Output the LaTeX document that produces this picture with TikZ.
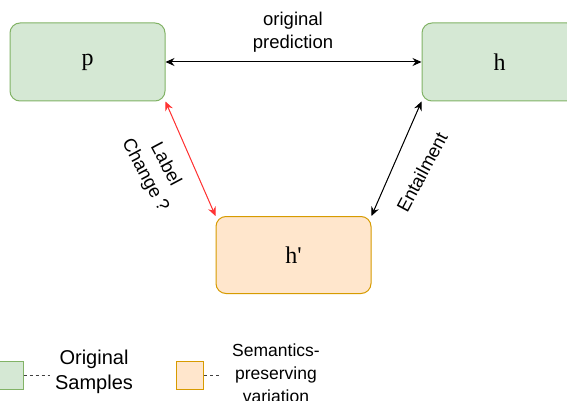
\documentclass[tikz,border=0pt]{standalone}
\usepackage{fontspec}
\setmainfont{Liberation Serif}
\newfontfamily\lsans{Liberation Sans}
\usetikzlibrary{arrows.meta}
\definecolor{gfill}{HTML}{D5E8D4}
\definecolor{gline}{HTML}{82B366}
\definecolor{ofill}{HTML}{FFE6CC}
\definecolor{oline}{HTML}{D79B00}
\definecolor{redline}{HTML}{FF3333}
\tikzset{
  greenbox/.style={draw=gline, fill=gfill, line width=1pt, rounded corners=10pt,
    minimum width=155pt, minimum height=78pt, inner sep=0pt,
    font=\fontsize{24}{28}\selectfont},
  orangebox/.style={draw=oline, fill=ofill, line width=1pt, rounded corners=10pt,
    minimum width=155pt, minimum height=77pt, inner sep=0pt,
    font=\fontsize{24}{28}\selectfont},
  conn/.style={line width=1pt, {Stealth[length=9pt,width=8pt,inset=3pt]}-{Stealth[length=9pt,width=8pt,inset=3pt]}},
  lbl/.style={font=\lsans\fontsize{18.5}{23}\selectfont, align=center, inner sep=0pt},
  legsq/.style={line width=1pt, minimum width=27pt, minimum height=28pt, inner sep=0pt},
  legline/.style={line width=1pt, draw=black!75, dash pattern=on 3pt off 3pt}
}
\begin{document}
\begin{tikzpicture}[x=1pt,y=-1pt]
\clip (0,0) rectangle (567,401);
\fill[white] (0,0) rectangle (567,401);
\node[greenbox] (p) at (87.5,62) {p};
\node[greenbox] (h) at (499.5,62) {h};
\node[orangebox] (hp) at (293.5,255) {h\textquotesingle};
\draw[conn] (p.east) -- (h.west);
\node[lbl] (op) at (293,32) {original\\prediction};
\draw[conn, draw=redline, fill=redline] (p.south east) -- (hp.north west);
\draw[conn, fill=black] (hp.north east) -- (h.south west);
\node[lbl, rotate=-62] (lc) at (155,170) {Label\\Change ?};
\node[lbl, rotate=62] (en) at (422,172) {Entailment};
% legend
\node[legsq, draw=gline, fill=gfill, minimum width=28pt] (lg) at (9,375) {};
\coordinate (lge) at (50,375);
\draw[legline] (lg.east) -- (lge);
\node[lbl, font=\lsans\fontsize{20}{25}\selectfont] (los) at (94,372) {Original\\Samples};
\node[legsq, draw=oline, fill=ofill] (lo) at (190,375) {};
\coordinate (loe) at (222,375);
\draw[legline] (lo.east) -- (loe);
\node[lbl, font=\lsans\fontsize{17.5}{23}\selectfont] (lsp) at (276,373) {Semantics-\\preserving\\variation};
\end{tikzpicture}
\end{document}
